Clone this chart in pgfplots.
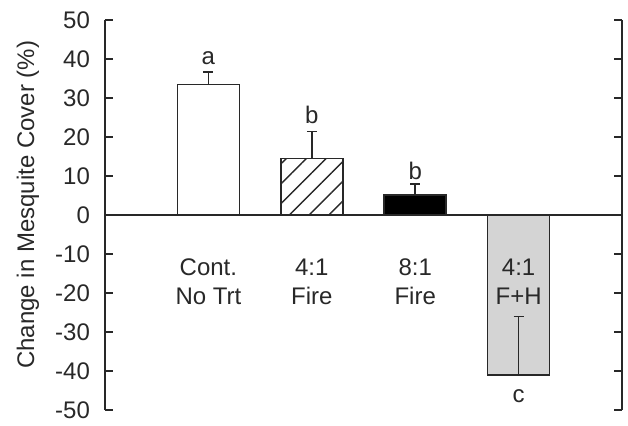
\documentclass[border=0pt]{standalone}
\usepackage{pgfplots}
\pgfplotsset{compat=1.18}
\usepackage{fontspec}
\setmainfont{Liberation Sans}
\usetikzlibrary{patterns.meta}
\definecolor{ln}{RGB}{40,40,40}
\definecolor{barg}{RGB}{212,212,212}
\begin{document}
\begin{tikzpicture}[font=\fontsize{12}{14}\selectfont]
\begin{axis}[
  name=ax,
  scale only axis,
  width=258.5pt, height=195pt,
  xmin=0, xmax=5, ymin=-50, ymax=50,
  axis x line=none,
  axis y line=box,
  ytick={-50,-40,...,50},
  ytick pos=both,
  yticklabel pos=left,
  tick align=inside,
  major tick length=4pt,
  tick style={ln, line width=0.8pt},
  axis line style={ln, line width=0.8pt},
  /pgf/number format/assume math mode=true,
  yticklabel style={xshift=-4pt, text=ln},
  ylabel={Change in Mesquite Cover (\%)},
  every axis y label/.style={at={(rel axis cs:-0.149,0.526)}, rotate=90, anchor=center, text=ln},
  clip=false,
  error bars/y dir=plus,
  error bars/y explicit,
  error bars/error mark options={rotate=90, mark size=2.5pt, line width=0.8pt, ln},
  error bars/error bar style={line width=0.8pt, ln},
]
\addplot[ln, line width=0.8pt] coordinates {(0,0) (5,0)};
\addplot[ybar, bar width=31pt, bar shift=0pt, fill=white, draw=ln, line width=0.8pt]
  coordinates {(1,33.5) +- (0,3.2)};
\addplot[ybar, bar width=31pt, bar shift=0pt, draw=ln, line width=0.8pt,
  pattern={Lines[angle=45,distance=7pt,line width=0.7pt]}, pattern color=ln]
  coordinates {(2,14.5) +- (0,6.9)};
\addplot[ybar, bar width=31pt, bar shift=0pt, fill=black, draw=ln, line width=0.8pt]
  coordinates {(3,5.1) +- (0,2.8)};
\addplot[ybar, bar width=31pt, bar shift=0pt, fill=barg, draw=ln, line width=0.8pt]
  coordinates {(4,-41.0) +- (0,15.0)};
\node[text=ln] at (axis cs:1,40.2) {a};
\node[text=ln] at (axis cs:2,25.6) {b};
\node[text=ln] at (axis cs:3,11.2) {b};
\node[text=ln] at (axis cs:4,-46.4) {c};
\node[text=ln] at (axis cs:1,-13.3) {Cont.};
\node[text=ln] at (axis cs:1,-20.8) {No Trt};
\node[text=ln] at (axis cs:2,-13.3) {4:1};
\node[text=ln] at (axis cs:2,-20.8) {Fire};
\node[text=ln] at (axis cs:3,-13.3) {8:1};
\node[text=ln] at (axis cs:3,-20.8) {Fire};
\node[text=ln] at (axis cs:4,-13.3) {4:1};
\node[text=ln] at (axis cs:4,-20.8) {F+H};
\end{axis}
\path ([shift={(-52.5pt,-5pt)}]ax.south west) rectangle ([shift={(3pt,10pt)}]ax.north east);
\end{tikzpicture}
\end{document}
